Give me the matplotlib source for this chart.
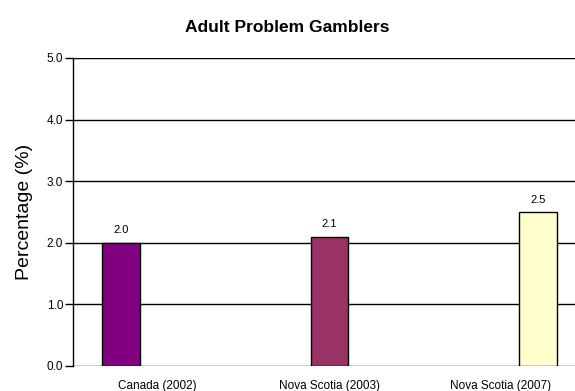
import matplotlib.pyplot as plt
import numpy as np

plt.rcParams['font.family'] = ['Liberation Sans', 'DejaVu Sans']

regions = ['Canada (2002)', 'Nova Scotia (2003)', 'Nova Scotia (2007)']
rates = [2.0, 2.1, 2.5]
bar_colors = ['#800080', '#993366', '#FFFFCC']
y_ticks = [0.0, 1.0, 2.0, 3.0, 4.0, 5.0]

fig = plt.figure(figsize=(5.75, 3.91), dpi=100)
# axes runs slightly past the right edge of the figure
ax = fig.add_axes([73 / 575, 1 - 366 / 391, 513 / 575, 308 / 391])

x = np.arange(len(regions))
ax.bar(x, rates, width=0.182, color=bar_colors, edgecolor='black',
       linewidth=1.0, zorder=3)
for xi, v in zip(x, rates):
    ax.text(xi, v + 0.12, f'{v:.1f}', ha='center', va='bottom', fontsize=8)

ax.set_xlim(-0.23, 2.23)
ax.set_ylim(0, 5)
ax.set_yticks(y_ticks)
ax.set_yticklabels([f'{t:.1f}' for t in y_ticks], fontsize=8.5)
# category labels sit between the bar and the category centre
ax.set_xticks([0.175, 1.0, 1.82])
ax.set_xticklabels(regions, fontsize=8.5)
ax.tick_params(axis='x', length=0, pad=10)
ax.tick_params(axis='y', length=6, width=1, pad=1)
ax.grid(axis='y', color='black', linewidth=1, zorder=0)

for side in ['top', 'right', 'bottom']:
    ax.spines[side].set_visible(False)
ax.spines['left'].set_linewidth(1)

ax.set_ylabel('Percentage (%)', fontsize=14, labelpad=10)
fig.suptitle('Adult Problem Gamblers', fontsize=12.5, fontweight='bold', y=0.95)

fig.savefig('out.png', dpi=100)
